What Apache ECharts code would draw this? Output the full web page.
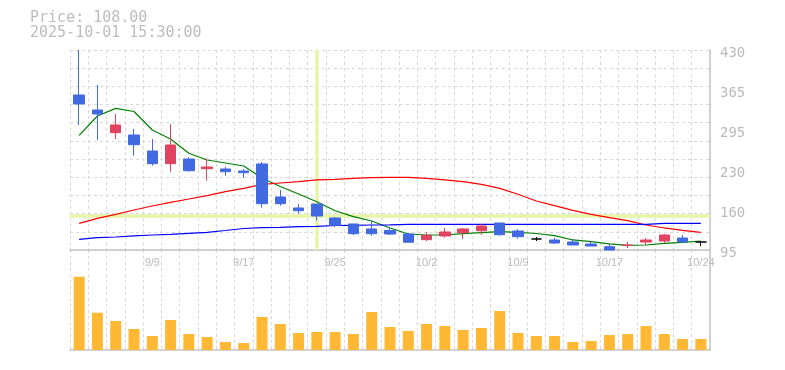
<!DOCTYPE html>
<html><head><meta charset="utf-8">
<script src="https://cdn.jsdelivr.net/npm/echarts@6/dist/echarts.min.js"></script>
<style>html,body{margin:0;padding:0;background:#fff}#c{width:785px;height:370px}</style>
</head><body><div id="c"></div>
<script>
const categories = ['9/3','9/4','9/5','9/8','9/9','9/10','9/11','9/12','9/16','9/17','9/18','9/19','9/22','9/24','9/25','9/26','9/29','9/30','10/1','10/2','10/3','10/6','10/7','10/8','10/9','10/10','10/14','10/15','10/16','10/17','10/20','10/21','10/22','10/23','10/24'];
const openV  = [354.6,329.5,291.5,287.6,260.8,239.6,247.4,231.2,230.7,227.3,239.1,183.8,165.4,172.0,148.6,138.6,130.2,127.7,121.8,112.3,118.5,124.0,127.3,140.2,126.8,113.4,111.7,108.4,105.0,100.5,102.5,108.4,110.1,115.1,108.4];
const closeV = [339.6,322.8,304.4,271.4,239.6,270.9,227.8,234.0,226.2,224.5,172.6,172.6,160.8,152.0,136.4,122.3,122.3,121.8,108.0,119.6,125.2,130.2,135.2,120.6,117.3,113.4,106.7,103.4,101.7,95.0,103.4,111.7,120.1,108.4,108.4];
const lowV   = [304.4,279.3,280.9,253.0,236.2,226.2,226.2,211.1,219.5,216.1,165.9,169.2,155.8,144.1,133.5,120.1,119.0,120.1,108.0,110.1,115.6,113.4,120.6,119.0,113.9,110.1,105.0,103.4,101.7,95.0,98.4,103.4,106.7,108.4,101.7];
const highV  = [430.0,371.4,322.8,297.7,280.9,306.0,250.8,248.6,234.0,230.7,242.4,195.5,172.0,172.0,150.3,138.6,143.6,133.5,123.0,124.6,131.9,131.9,138.6,140.2,130.2,116.8,115.1,113.4,110.1,105.0,108.4,115.1,121.8,120.1,108.4];
const maShort = [287.1,319.5,332.3,327.0,296.0,280.9,257.0,245.8,240.7,235.7,215.6,201.4,188.8,175.9,160.8,150.8,143.6,131.9,121.8,120.1,120.1,122.3,124.0,125.7,124.6,122.6,119.0,111.8,108.9,105.1,102.9,103.4,106.2,107.9,110.1];
const maMid   = [139.7,148.1,154.8,162.0,168.7,174.9,180.4,186.0,192.7,198.3,205.0,207.2,209.4,212.3,213.4,215.1,216.1,216.8,216.8,215.1,212.3,209.4,205.0,198.3,188.3,177.1,169.2,161.5,154.8,149.1,144.1,136.9,131.9,128.0,124.6];
const maLong  = [112.9,115.6,116.8,118.5,120.1,121.3,123.0,124.6,127.7,131.0,132.4,133.0,134.0,134.7,136.0,136.4,136.9,137.2,138.0,138.0,138.0,138.0,138.0,138.0,138.0,138.0,138.0,138.0,138.0,138.0,138.0,138.0,139.7,139.7,139.7];
const volume  = [73.3,37.3,29,21,14,30,16,13,8,7,33,26,17,18,18,16,38,23,19,26,24,20,22,39,17,14,14,8,9,15,16,24,16,11,11];
const yTickValues = [95,162,229,296,363,430];
const yTickLabels = ['95','160','230','295','365','430'];
const crossCategory = '9/24';
const crossPrice = 153;
const headline = ['Price: 108.00','2025-10-01 15:30:00'];

const UP = '#e14361', DOWN = '#4169e1', DOJI = '#000000';
const candleData = categories.map((c, i) => {
  const v = [openV[i], closeV[i], lowV[i], highV[i]];
  if (openV[i] === closeV[i]) {
    return { value: v, itemStyle: { color: DOJI, color0: DOJI, borderColor: DOJI, borderColor0: DOJI, borderColorDoji: DOJI } };
  }
  return v;
});
const gridDash = { color: '#d9d9d9', type: [3, 3], width: 1 };

const chart = echarts.init(document.getElementById('c'), null, { renderer: 'canvas' });
chart.setOption({
  animation: false,
  backgroundColor: '#fff',
  title: {
    text: headline.join('\n'), left: 30, top: 11, padding: 0,
    textStyle: { fontFamily: 'DejaVu Sans Mono, monospace', fontSize: 15, fontWeight: 'normal', color: '#bdbdbd', lineHeight: 15 }
  },
  grid: [
    { left: 70, right: 75, top: 50, height: 200 },
    { left: 70, right: 75, top: 250, height: 100 }
  ],
  xAxis: [
    { type: 'category', gridIndex: 0, data: categories, boundaryGap: true,
      axisLine: { show: true, lineStyle: { color: '#c4c4c4', width: 1.5 } },
      axisTick: { show: false },
      axisLabel: { interval: (i) => i % 5 === 4, color: '#bbbbbb', fontSize: 11, margin: 7, fontFamily: 'Liberation Sans, Arial, sans-serif' },
      splitLine: { show: true, interval: 0, lineStyle: gridDash } },
    { type: 'category', gridIndex: 1, data: categories, boundaryGap: true,
      axisLine: { show: true, lineStyle: { color: '#c4c4c4', width: 1.5 } },
      axisTick: { show: false }, axisLabel: { show: false },
      splitLine: { show: true, interval: 0, lineStyle: gridDash } }
  ],
  yAxis: [
    { type: 'value', gridIndex: 0, position: 'right', min: 95, max: 430, scale: true,
      axisLine: { show: true, lineStyle: { color: '#c4c4c4', width: 1.5 } },
      axisTick: { show: false }, splitLine: { show: false },
      axisLabel: { customValues: yTickValues, margin: 10, color: '#bbbbbb', fontSize: 14,
        fontFamily: 'DejaVu Sans Mono, monospace', verticalAlign: 'top', lineHeight: 7,
        formatter: (v) => { const k = yTickValues.findIndex(t => Math.abs(t - v) < 0.5); return k >= 0 ? yTickLabels[k] : ''; } } },
    { type: 'value', gridIndex: 0, position: 'left', min: 0, max: 11, interval: 1,
      axisLine: { show: false }, axisTick: { show: false }, axisLabel: { show: false },
      splitLine: { show: true, lineStyle: gridDash } },
    { type: 'value', gridIndex: 1, position: 'right', min: 0, max: 100,
      axisLine: { show: true, lineStyle: { color: '#c4c4c4', width: 1.5 } },
      axisTick: { show: false }, axisLabel: { show: false }, splitLine: { show: false } }
  ],
  series: [
    { type: 'line', xAxisIndex: 0, yAxisIndex: 0, z: 1, data: categories.map(() => null), showSymbol: false, silent: true,
      markLine: { z: 1, silent: true, symbol: ['none', 'none'], label: { show: false }, animation: false,
        lineStyle: { color: '#e6f5a8', width: 3.5, type: 'solid', opacity: 1 },
        emphasis: { disabled: true },
        data: [{ xAxis: crossCategory }, { yAxis: crossPrice }] } },
    { name: 'maShort', type: 'line', xAxisIndex: 0, yAxisIndex: 0, z: 2, data: maShort, showSymbol: false, symbol: 'none',
      lineStyle: { color: '#008000', width: 1.2 } },
    { name: 'maMid', type: 'line', xAxisIndex: 0, yAxisIndex: 0, z: 2, data: maMid, showSymbol: false, symbol: 'none',
      lineStyle: { color: '#ff0000', width: 1.2 } },
    { name: 'maLong', type: 'line', xAxisIndex: 0, yAxisIndex: 0, z: 2, data: maLong, showSymbol: false, symbol: 'none',
      lineStyle: { color: '#0000ff', width: 1.2 } },
    { type: 'candlestick', xAxisIndex: 0, yAxisIndex: 0, z: 3, data: candleData, barWidth: 11,
      itemStyle: { color: UP, color0: DOWN, borderColor: UP, borderColor0: DOWN, borderColorDoji: DOJI, borderWidth: 1 } },
    { type: 'bar', xAxisIndex: 1, yAxisIndex: 2, data: volume, barWidth: 11, itemStyle: { color: '#ffb833' } }
  ]
});
</script>
</body></html>
